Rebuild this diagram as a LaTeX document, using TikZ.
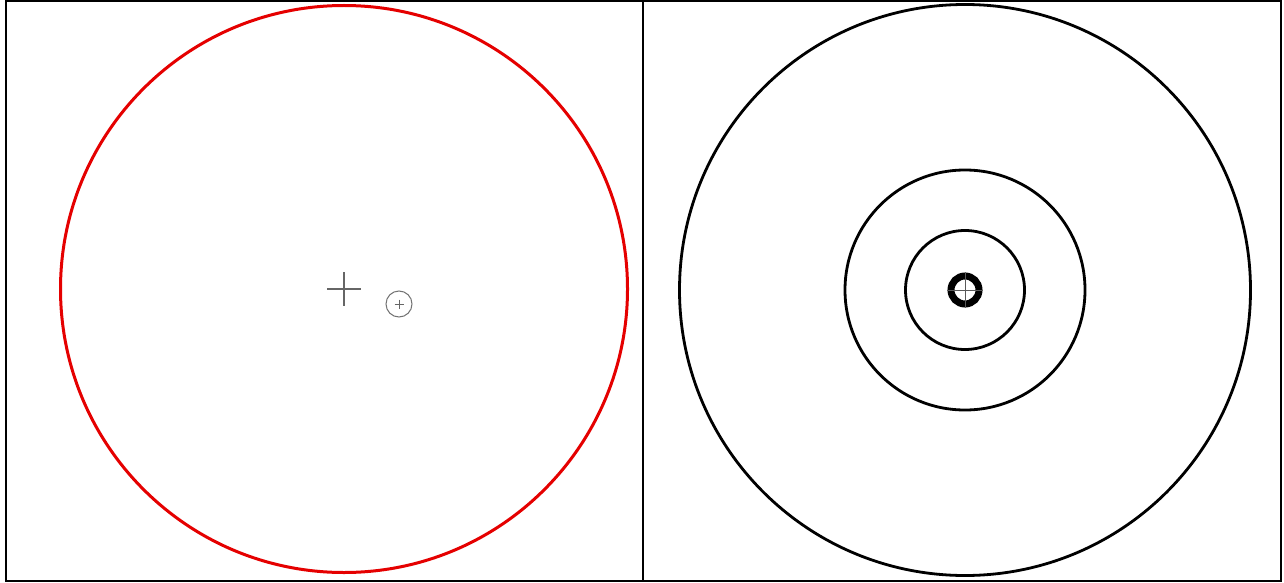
\documentclass[tikz,border=0pt]{standalone}
\usetikzlibrary{calc}

\begin{document}
\begin{tikzpicture}[x=1pt, y=-1pt]
    \useasboundingbox (0, 0) rectangle (1284, 583);
    \fill[white] (0, 0) rectangle (1284, 583);

    % frames
    \draw[black, line width=2.4pt] (6, 1) rectangle (643, 581);
    \draw[black, line width=2.4pt] (643, 1) rectangle (1281, 581);

    % left panel
    \draw[red!90!black, line width=3pt] (344, 289) circle (283.5);
    \draw[gray!80!black, line width=1.1pt] (327, 289) -- (361, 289)
      (344, 272) -- (344, 306);
    \draw[gray!90!black, line width=1pt] (399, 304) circle (13);
    \draw[gray!80!black, line width=0.8pt] (394.5, 304) -- (403.5, 304)
      (399, 299.5) -- (399, 308.5);

    % right panel
    \draw[black, line width=2.8pt] (965, 290) circle (285.5);
    \draw[black, line width=2.8pt] (965, 290) circle (120);
    \draw[black, line width=2.8pt] (965, 290) circle (59.5);
    \draw[black, line width=7pt] (965, 290) circle (14);
    \draw[gray!70!black, line width=1pt] (947, 290) -- (983, 290)
      (965, 272) -- (965, 308);

\end{tikzpicture}
\end{document}
